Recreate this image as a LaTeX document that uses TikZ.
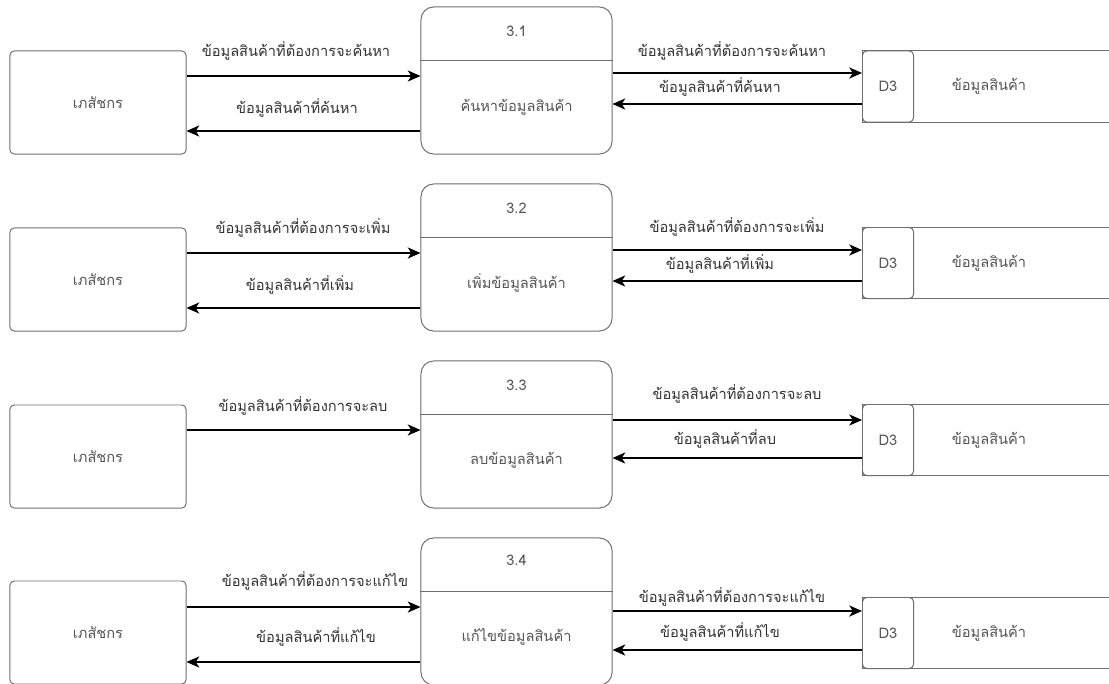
\documentclass[tikz,border=0pt]{standalone}
\usepackage{fontspec}
\newfontfamily\thaifont[Script=Thai]{Loma}
\usetikzlibrary{arrows.meta,calc}

\definecolor{boxline}{HTML}{6E6E6E}
\definecolor{boxtext}{HTML}{555555}
\definecolor{flowtext}{HTML}{333333}

\tikzset{
  entity/.style={draw=boxline, line width=0.7pt, rounded corners=3pt, minimum width=4.4cm, minimum height=2.575cm, text=boxtext},
  process/.style={draw=boxline, line width=0.7pt, rounded corners=9pt, minimum width=4.775cm, minimum height=3.675cm},
  proctext/.style={text=boxtext},
  storebox/.style={draw=boxline, line width=0.7pt, minimum width=7cm, minimum height=1.775cm, anchor=west},
  storeid/.style={draw=boxline, line width=0.7pt, rounded corners=3pt, minimum width=1.275cm, minimum height=1.775cm, anchor=west, text=boxtext},
  flow/.style={-{Stealth[length=3.2mm,width=2.8mm,inset=0.9mm]}, line width=0.9pt},
  flowlabel/.style={text=flowtext},
}

\begin{document}
\begin{tikzpicture}[x=0.025cm, y=-0.025cm, font=\thaifont\fontsize{10.4}{12.5}\selectfont]

    \clip (0,0) rectangle (1109,683);

    % Row 1: search
    \node[entity] (e1) at (98,102.5) {เภสัชกร};
    \node[process] (p1) at (516.5,80.5) {};
    \draw[boxline, line width=0.7pt] ($(p1.north west)+(0,54)$) -- ($(p1.north east)+(0,54)$);
    \node[proctext] (p1n) at ($(p1.north)+(0,25)$) {3.1};
    \node[proctext] (p1t) at ($(p1.north)+(0,101)$) {ค้นหาข้อมูลสินค้า};
    \node[storebox] (s1) at (862,86.5) {};
    \node[storeid] (d1) at (862,86.5) {D3};
    \node[proctext] (s1t) at (989,86.5) {ข้อมูลสินค้า};

    \draw[flow] (e1.east |- 0,76) -- (p1.west |- 0,76);
    \draw[flow] (p1.west |- 0,131) -- (e1.east |- 0,131);
    \draw[flow] (p1.east |- 0,73) -- (d1.west |- 0,73);
    \draw[flow] (d1.west |- 0,104) -- (p1.east |- 0,104);
    \node[flowlabel] (l1a) at (296,51) {ข้อมูลสินค้าที่ต้องการจะค้นหา};
    \node[flowlabel] (l1b) at (297,108) {ข้อมูลสินค้าที่ค้นหา};
    \node[flowlabel] (l1c) at (732,51) {ข้อมูลสินค้าที่ต้องการจะค้นหา};
    \node[flowlabel] (l1d) at (720,87) {ข้อมูลสินค้าที่ค้นหา};

    % Row 2: add
    \node[entity] (e2) at (98,279.5) {เภสัชกร};
    \node[process] (p2) at (516.5,257.5) {};
    \draw[boxline, line width=0.7pt] ($(p2.north west)+(0,54)$) -- ($(p2.north east)+(0,54)$);
    \node[proctext] (p2n) at ($(p2.north)+(0,25)$) {3.2};
    \node[proctext] (p2t) at ($(p2.north)+(0,99)$) {เพิ่มข้อมูลสินค้า};
    \node[storebox] (s2) at (862,263) {};
    \node[storeid] (d2) at (862,263) {D3};
    \node[proctext] (s2t) at (989,263) {ข้อมูลสินค้า};

    \draw[flow] (e2.east |- 0,253) -- (p2.west |- 0,253);
    \draw[flow] (p2.west |- 0,308) -- (e2.east |- 0,308);
    \draw[flow] (p2.east |- 0,250) -- (d2.west |- 0,250);
    \draw[flow] (d2.west |- 0,281) -- (p2.east |- 0,281);
    \node[flowlabel] (l2a) at (303,228) {ข้อมูลสินค้าที่ต้องการจะเพิ่ม};
    \node[flowlabel] (l2b) at (300,285) {ข้อมูลสินค้าที่เพิ่ม};
    \node[flowlabel] (l2c) at (737,227) {ข้อมูลสินค้าที่ต้องการจะเพิ่ม};
    \node[flowlabel] (l2d) at (720,264) {ข้อมูลสินค้าที่เพิ่ม};

    % Row 3: delete
    \node[entity] (e3) at (98,456.5) {เภสัชกร};
    \node[process] (p3) at (516.5,434.5) {};
    \draw[boxline, line width=0.7pt] ($(p3.north west)+(0,54)$) -- ($(p3.north east)+(0,54)$);
    \node[proctext] (p3n) at ($(p3.north)+(0,25)$) {3.3};
    \node[proctext] (p3t) at ($(p3.north)+(0,100)$) {ลบข้อมูลสินค้า};
    \node[storebox] (s3) at (862,440) {};
    \node[storeid] (d3) at (862,440) {D3};
    \node[proctext] (s3t) at (989,440) {ข้อมูลสินค้า};

    \draw[flow] (e3.east |- 0,430) -- (p3.west |- 0,430);
    \draw[flow] (p3.east |- 0,420) -- (d3.west |- 0,420);
    \draw[flow] (d3.west |- 0,458) -- (p3.east |- 0,458);
    \node[flowlabel] (l3a) at (303,406) {ข้อมูลสินค้าที่ต้องการจะลบ};
    \node[flowlabel] (l3c) at (737,394) {ข้อมูลสินค้าที่ต้องการจะลบ};
    \node[flowlabel] (l3d) at (725,439) {ข้อมูลสินค้าที่ลบ};

    % Row 4: edit
    \node[entity] (e4) at (98,632.5) {เภสัชกร};
    \node[process] (p4) at (516.5,611.5) {};
    \draw[boxline, line width=0.7pt] ($(p4.north west)+(0,54)$) -- ($(p4.north east)+(0,54)$);
    \node[proctext] (p4n) at ($(p4.north)+(0,23)$) {3.4};
    \node[proctext] (p4t) at ($(p4.north)+(0,99)$) {แก้ไขข้อมูลสินค้า};
    \node[storebox] (s4) at (862,633) {};
    \node[storeid] (d4) at (862,633) {D3};
    \node[proctext] (s4t) at (989,633) {ข้อมูลสินค้า};

    \draw[flow] (e4.east |- 0,607) -- (p4.west |- 0,607);
    \draw[flow] (p4.west |- 0,662) -- (e4.east |- 0,662);
    \draw[flow] (p4.east |- 0,611) -- (d4.west |- 0,611);
    \draw[flow] (d4.west |- 0,650) -- (p4.east |- 0,650);
    \node[flowlabel] (l4a) at (315,581) {ข้อมูลสินค้าที่ต้องการจะแก้ไข};
    \node[flowlabel] (l4b) at (316,637) {ข้อมูลสินค้าที่แก้ไข};
    \node[flowlabel] (l4c) at (732,597) {ข้อมูลสินค้าที่ต้องการจะแก้ไข};
    \node[flowlabel] (l4d) at (720,632) {ข้อมูลสินค้าที่แก้ไข};

\end{tikzpicture}
\end{document}
